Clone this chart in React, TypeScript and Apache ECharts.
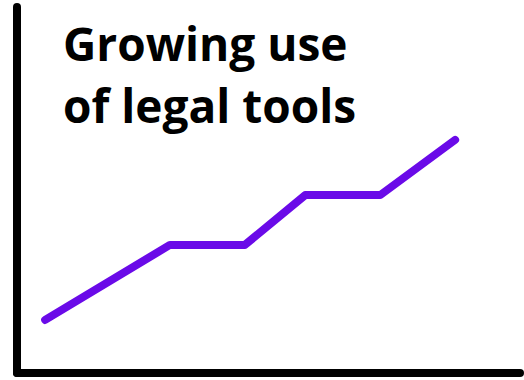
import React, { useEffect, useRef } from "react";
import * as echarts from "echarts";

const titleLines = ["Growing use", "of legal tools"];
const xValues = [5.6, 30.4, 45.3, 57.3, 72.2, 87.1];
const yValues = [14.5, 35, 35, 48.6, 48.6, 63.7];

export default function App() {
  const ref = useRef<HTMLDivElement>(null);
  useEffect(() => {
    if (!ref.current) return;
    const chart = echarts.init(ref.current, undefined, { renderer: "svg" });
    const axisLine = {
      show: true,
      onZero: false,
      lineStyle: { color: "#000", width: 8, cap: "round" },
    };
    chart.setOption({
      animation: false,
      backgroundColor: "#fff",
      title: {
        text: titleLines.join("\n"),
        left: 58,
        top: 7,
        textStyle: {
          fontFamily: "Open Sans",
          fontWeight: "bold",
          fontSize: 46,
          lineHeight: 62,
          color: "#000",
        },
      },
      grid: { left: 17, right: 4, top: 7, bottom: 7 },
      xAxis: {
        type: "value",
        min: 0,
        max: 100,
        axisLine,
        axisTick: { show: false },
        axisLabel: { show: false },
        splitLine: { show: false },
      },
      yAxis: {
        type: "value",
        min: 0,
        max: 100,
        axisLine,
        axisTick: { show: false },
        axisLabel: { show: false },
        splitLine: { show: false },
      },
      series: [
        {
          type: "line",
          data: xValues.map((x, i) => [x, yValues[i]]),
          symbol: "none",
          lineStyle: { color: "#6a0ae8", width: 8, cap: "round", join: "round" },
        },
      ],
    });
    return () => chart.dispose();
  }, []);
  return (
    <div
      ref={ref}
      style={{ width: 524, height: 380, position: "absolute", left: 0, top: 0 }}
    />
  );
}
